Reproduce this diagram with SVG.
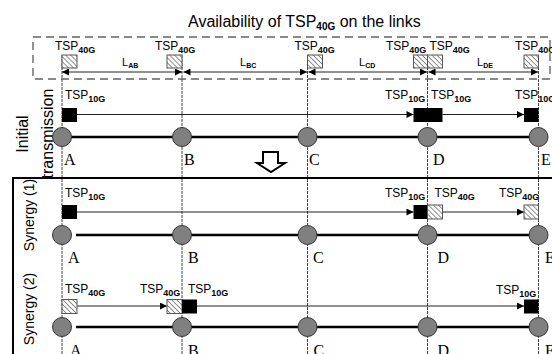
<svg xmlns="http://www.w3.org/2000/svg" width="552" height="354" viewBox="0 0 552 354">
<style>
.t{font-family:"Liberation Sans",Arial,sans-serif;font-size:12px;fill:#000}
.s{font-size:9px;font-weight:bold}
.ti{font-family:"Liberation Sans",Arial,sans-serif;font-size:16px;fill:#000}
.ts{font-size:10px;font-weight:bold}
.l{font-family:"Liberation Sans",Arial,sans-serif;font-size:11px;fill:#000}
.ls{font-size:7px;font-weight:bold}
.nl{font-family:"Liberation Serif","Times New Roman",serif;font-size:16px;fill:#000}
.side{font-family:"Liberation Sans",Arial,sans-serif;font-size:16px;fill:#000}
.side2{font-family:"Liberation Sans",Arial,sans-serif;font-size:14px;fill:#000}
.vl{stroke:#444;stroke-width:1;stroke-dasharray:3 1}
.ar{stroke:#222;stroke-width:1;fill:none;marker-end:url(#ah)}
.dar{stroke:#222;stroke-width:1;fill:none;marker-start:url(#ah);marker-end:url(#ah)}
.bus{stroke:#000;stroke-width:2.5}
.nd{fill:#808080;stroke:#333;stroke-width:1}
.blk{fill:#000}
.hat{fill:url(#hatch);stroke:#555;stroke-width:1}
</style>
<defs>
<marker id="ah" viewBox="0 0 10 10" refX="10" refY="5" markerWidth="8" markerHeight="7" markerUnits="userSpaceOnUse" orient="auto-start-reverse"><path d="M0,0 L10,5 L0,10 z" fill="#000"/></marker>
<pattern id="hatch" patternUnits="userSpaceOnUse" width="3.5" height="3.5" patternTransform="rotate(-45)"><rect width="3.5" height="3.5" fill="#fff"/><line x1="0" y1="0" x2="0" y2="3.5" stroke="#777" stroke-width="1.6"/></pattern>
</defs>
<rect width="552" height="354" fill="#fff"/>

<!-- title and availability box -->
<g id="title"><text class="ti" x="188" y="27">Availability of TSP<tspan class="ts" dy="3">40G</tspan><tspan dy="-3"> on the links</tspan></text></g>
<rect x="33" y="37" width="517" height="42" fill="none" stroke="#888" stroke-width="1.8" stroke-dasharray="8 5"/>

<!-- vertical guide lines -->
<g id="guides">
<line class="vl" x1="62" y1="55" x2="62" y2="354"/>
<line class="vl" x1="182" y1="55" x2="182" y2="354"/>
<line class="vl" x1="307.5" y1="55" x2="307.5" y2="354"/>
<line class="vl" x1="427.5" y1="55" x2="427.5" y2="354"/>
<line class="vl" x1="538.5" y1="55" x2="538.5" y2="354"/>
</g>

<!-- frame -->
<path d="M13,356 V178 H553" fill="none" stroke="#000" stroke-width="2"/>

<!-- side labels -->
<g id="side-labels">
<text class="side" text-anchor="middle" transform="translate(28,134) rotate(-90)">Initial</text>
<text class="side" text-anchor="middle" transform="translate(53,133.5) rotate(-90)">transmission</text>
<text class="side2" text-anchor="middle" transform="translate(34,215) rotate(-90)">Synergy (1)</text>
<text class="side2" text-anchor="middle" transform="translate(34,309) rotate(-90)">Synergy (2)</text>
</g>

<!-- availability row -->
<g id="availability">
<rect class="hat" x="62" y="55" width="15" height="13"/>
<rect class="hat" x="167" y="55" width="15" height="13"/>
<rect class="hat" x="307.5" y="55" width="15" height="13"/>
<rect class="hat" x="413.5" y="55" width="14" height="13"/>
<rect class="hat" x="427.5" y="55" width="15" height="13"/>
<rect class="hat" x="524" y="55" width="14.5" height="13"/>
<text class="t" x="55" y="50">TSP<tspan class="s" dy="3">40G</tspan></text>
<text class="t" x="155" y="50">TSP<tspan class="s" dy="3">40G</tspan></text>
<text class="t" x="294.5" y="50">TSP<tspan class="s" dy="3">40G</tspan></text>
<text class="t" x="386" y="50">TSP<tspan class="s" dy="3">40G</tspan></text>
<text class="t" x="429.5" y="50">TSP<tspan class="s" dy="3">40G</tspan></text>
<text class="t" x="515" y="50">TSP<tspan class="s" dy="3">40G</tspan></text>
<text class="l" x="122" y="66">L<tspan class="ls" dy="2">AB</tspan></text>
<text class="l" x="240" y="66">L<tspan class="ls" dy="2">BC</tspan></text>
<text class="l" x="359" y="66">L<tspan class="ls" dy="2">CD</tspan></text>
<text class="l" x="477" y="66">L<tspan class="ls" dy="2">DE</tspan></text>
</g>
<g id="connectors">
<line class="dar" x1="62" y1="72" x2="182" y2="72"/>
<line class="dar" x1="183.5" y1="72" x2="307" y2="72"/>
<line class="dar" x1="308.5" y1="72" x2="427" y2="72"/>
<line class="dar" x1="428.5" y1="72" x2="538" y2="72"/>
<line class="ar" x1="77" y1="114.5" x2="413.5" y2="114.5"/>
<line class="ar" x1="442.5" y1="114.5" x2="524" y2="114.5"/>
<line class="ar" x1="77" y1="212" x2="413.5" y2="212"/>
<line class="ar" x1="442.5" y1="212" x2="524" y2="212"/>
<line class="ar" x1="77" y1="306" x2="167" y2="306"/>
<line class="ar" x1="197" y1="306" x2="524" y2="306"/>
<line class="bus" x1="62" y1="137" x2="538.5" y2="137"/>
<line class="bus" x1="76" y1="235" x2="538.5" y2="235"/>
<line class="bus" x1="76" y1="327" x2="538.5" y2="327"/>
</g>

<!-- row 1: initial transmission -->
<g id="row1">
<rect class="blk" x="62" y="108" width="15" height="14"/>
<rect class="blk" x="413.5" y="108" width="29" height="14"/>
<rect class="blk" x="524" y="108" width="14.5" height="14"/>
<text class="t" x="65" y="99">TSP<tspan class="s" dy="3">10G</tspan></text>
<text class="t" x="385" y="99">TSP<tspan class="s" dy="3">10G</tspan></text>
<text class="t" x="431" y="99">TSP<tspan class="s" dy="3">10G</tspan></text>
<text class="t" x="515" y="99">TSP<tspan class="s" dy="3">10G</tspan></text>
</g>
<g id="nodeA1"><circle class="nd" cx="62" cy="137" r="9.5"/><text class="nl" x="64" y="165">A</text></g>
<g id="nodeB1"><circle class="nd" cx="182" cy="137" r="9.5"/><text class="nl" x="184" y="165">B</text></g>
<g id="nodeC1"><circle class="nd" cx="307.5" cy="137" r="9.5"/><text class="nl" x="309" y="165">C</text></g>
<g id="nodeD1"><circle class="nd" cx="427.5" cy="137" r="9.5"/><text class="nl" x="433" y="165">D</text></g>
<g id="nodeE1"><circle class="nd" cx="538.5" cy="137" r="9.5"/><text class="nl" x="541" y="165">E</text></g>

<!-- down arrow -->
<g id="down-arrow"><polygon points="263,152 278,152 278,163 285,163 271,172 257,163 263,163" fill="#fff" stroke="#000" stroke-width="2" stroke-linejoin="miter"/></g>

<!-- row 2: synergy 1 -->
<g id="row2">
<rect class="blk" x="62" y="205" width="15" height="14"/>
<rect class="blk" x="413.5" y="205" width="14" height="14"/>
<rect class="hat" x="427.5" y="205" width="15" height="14"/>
<rect class="hat" x="524" y="205" width="14.5" height="14"/>
<text class="t" x="65" y="197">TSP<tspan class="s" dy="3">10G</tspan></text>
<text class="t" x="385" y="197">TSP<tspan class="s" dy="3">10G</tspan></text>
<text class="t" x="434.5" y="197">TSP<tspan class="s" dy="3">40G</tspan></text>
<text class="t" x="499" y="197">TSP<tspan class="s" dy="3">40G</tspan></text>
</g>
<g id="nodeA2"><circle class="nd" cx="62" cy="235" r="9.5"/><text class="nl" x="68" y="263">A</text></g>
<g id="nodeB2"><circle class="nd" cx="182" cy="235" r="9.5"/><text class="nl" x="188" y="263">B</text></g>
<g id="nodeC2"><circle class="nd" cx="307.5" cy="235" r="9.5"/><text class="nl" x="313" y="263">C</text></g>
<g id="nodeD2"><circle class="nd" cx="427.5" cy="235" r="9.5"/><text class="nl" x="437.5" y="263">D</text></g>
<g id="nodeE2"><circle class="nd" cx="538.5" cy="235" r="9.5"/><text class="nl" x="545" y="263">E</text></g>

<!-- row 3: synergy 2 -->
<g id="row3">
<rect class="hat" x="62" y="299.5" width="15" height="14"/>
<rect class="hat" x="167" y="299.5" width="15" height="14"/>
<rect class="blk" x="182" y="299.5" width="15" height="14"/>
<rect class="blk" x="524" y="299.5" width="14.5" height="14"/>
<text class="t" x="65" y="293">TSP<tspan class="s" dy="3">40G</tspan></text>
<text class="t" x="140" y="293">TSP<tspan class="s" dy="3">40G</tspan></text>
<text class="t" x="188" y="293">TSP<tspan class="s" dy="3">10G</tspan></text>
<text class="t" x="496" y="294">TSP<tspan class="s" dy="3">10G</tspan></text>
</g>
<g id="nodeA3"><circle class="nd" cx="62" cy="327" r="9.5"/><text class="nl" x="70" y="356">A</text></g>
<g id="nodeB3"><circle class="nd" cx="182" cy="327" r="9.5"/><text class="nl" x="188" y="356">B</text></g>
<g id="nodeC3"><circle class="nd" cx="307.5" cy="327" r="9.5"/><text class="nl" x="313.5" y="356">C</text></g>
<g id="nodeD3"><circle class="nd" cx="427.5" cy="327" r="9.5"/><text class="nl" x="437.5" y="356">D</text></g>
<g id="nodeE3"><circle class="nd" cx="538.5" cy="327" r="9.5"/><text class="nl" x="545" y="356">E</text></g>
</svg>
